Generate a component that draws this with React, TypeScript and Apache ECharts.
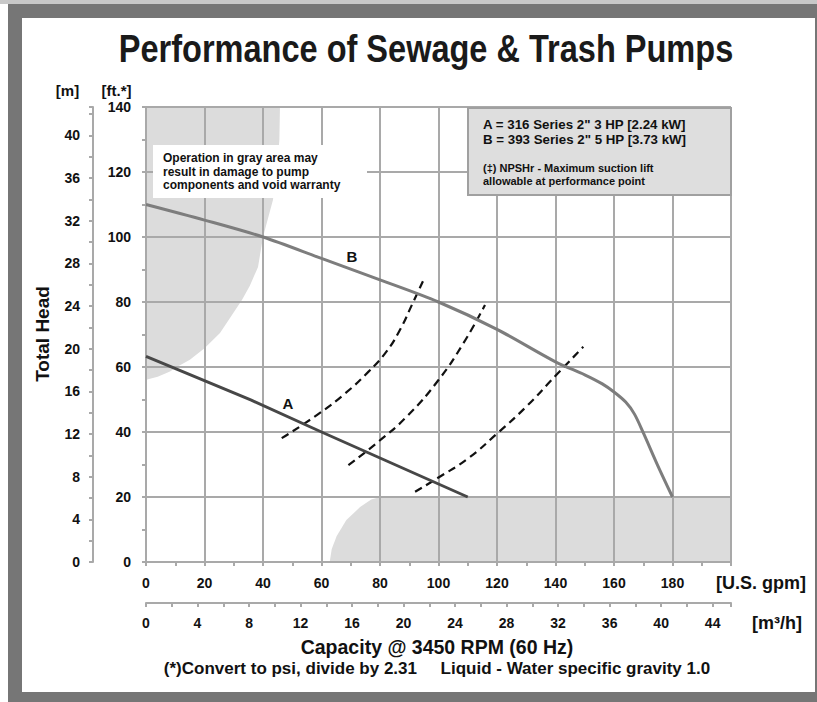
import React, { useEffect, useRef } from "react";
import * as echarts from "echarts";

// ---- Data (U.S. gpm, ft) ----
const GPM_MAX = 200;
const FT_MAX = 140;
const GPM_PER_M3H = 4.4029;
const FT_PER_M = 3.2808;

const curveA: number[][] = [
  [0, 63.3], [36, 49.8], [60, 40], [80, 32], [110, 20],
];
const curveB: number[][] = [
  [0, 110], [20, 105.2], [40, 100], [60, 93.4], [80, 86.8], [100, 80],
  [120, 71.6], [140, 61.6], [150, 57.6], [156, 54.8], [160, 52.3], [164, 49.2],
  [167, 45.5], [170, 39.8], [175, 29.6], [180, 20],
];
const lift15: number[][] = [
  [46.4, 38.1], [58.4, 45.2], [68, 51.8], [76, 58.5], [82, 64.5], [86.8, 71.4],
  [91, 79.3], [95.4, 87.8],
];
const lift10: number[][] = [
  [69.2, 29.8], [79.4, 37], [89.1, 44.7], [100, 56], [108.5, 67.3], [115.9, 79.1],
];
const lift5: number[][] = [
  [92, 21.6], [100, 26], [110, 31.8], [120, 39.5], [130, 47.8], [140, 57.3], [149.5, 66.2],
];
// gray "do not operate" regions
const grayTopLeft: number[][] = [
  [0, 140], [45.8, 140], [45.6, 130], [44.8, 120.6], [43.4, 111.4], [40, 100],
  [38.3, 90.8], [35.5, 85], [32.8, 80.6], [29, 75.5], [25.3, 70.5], [20, 65.8],
  [15, 62.2], [11, 60.2], [8.2, 58.6], [4, 57], [0.7, 56.2], [0, 56],
];
const grayBottomRight: number[][] = [
  [62.8, 0], [63.5, 4], [65.2, 8], [68.5, 12.9], [73.2, 16.9], [77, 19.2],
  [80, 20], [200, 20], [200, 0],
];

const liftLabels = ["15' Max. lift ‡", "10' Max. lift ‡", "5' Max. lift ‡"];
const legendLines = ['A = 316 Series 2" 3 HP [2.24 kW]', 'B = 393 Series 2" 5 HP [3.73 kW]'];
const noteLines = ["(‡) NPSHr - Maximum suction lift", "allowable at performance point"];
const warnLines = ["Operation in gray area may", "result in damage to pump", "components and void warranty"];

const SANS = '"Liberation Sans", Arial, Helvetica, sans-serif';
const GRID_C = "#a9a9a9";
const INK = "#111111";

function regionSeries(points: number[][]) {
  return {
    type: "custom",
    z: -1,
    silent: true,
    data: points,
    renderItem: (params: any, api: any) => {
      if (params.dataIndex !== 0) return null;
      const pts = points.map((p) => api.coord(p));
      return { type: "polygon", shape: { points: pts }, style: { fill: "#dcdcdc" } };
    },
  };
}

function liftSeries(data: number[][], label: string, offset: number[]) {
  const d: any[] = data.map((p) => p);
  d[d.length - 1] = {
    value: data[data.length - 1],
    label: {
      show: true,
      formatter: label,
      position: "top",
      offset,
      fontFamily: SANS,
      fontWeight: "bold",
      fontSize: 12,
      color: INK,
    },
  };
  return {
    type: "line",
    data: d,
    smooth: 0.5,
    symbol: "none",
    showSymbol: false,
    lineStyle: { color: INK, width: 2.2, type: [8, 5] },
    z: 3,
  };
}

function txt(x: number, y: number, text: string, size: number, extra: any = {}, styleExtra: any = {}) {
  return {
    type: "text", x, y, z: 21, silent: true, ...extra,
    style: { text, fontFamily: SANS, fontWeight: "bold", fontSize: size, fill: INK, align: "center", verticalAlign: "middle", ...styleExtra },
  };
}

export default function App() {
  const ref = useRef<HTMLDivElement>(null);
  useEffect(() => {
    if (!ref.current) return;
    const chart = echarts.init(ref.current, undefined, { renderer: "svg" });
    const tickLabel = { fontFamily: SANS, fontWeight: "bold", fontSize: 14, color: INK };
    const axLine = { show: true, onZero: false, lineStyle: { color: GRID_C, width: 2 } };
    const tick = { show: true, length: 4, lineStyle: { color: GRID_C, width: 2 } };
    const minor = { show: true, splitNumber: 2, length: 4, lineStyle: { color: GRID_C, width: 2 } };
    chart.setOption({
      animation: false,
      backgroundColor: "#ffffff",
      grid: { left: 146, top: 107, width: 585, height: 455, containLabel: false },
      xAxis: [
        {
          type: "value", min: 0, max: GPM_MAX, interval: 20, position: "bottom",
          axisLine: axLine, axisTick: tick, minorTick: minor,
          splitLine: { show: true, lineStyle: { color: GRID_C, width: 2 } },
          axisLabel: { ...tickLabel, margin: 14, formatter: (v: number) => (v >= 199 ? "" : String(v)) },
        },
        {
          type: "value", min: 0, max: GPM_MAX / GPM_PER_M3H, interval: 4, position: "bottom", offset: 41,
          axisLine: axLine, axisTick: tick, minorTick: minor, splitLine: { show: false },
          axisLabel: { ...tickLabel, margin: 13, formatter: (v: number) => (v > 44.5 ? "" : String(v)) },
        },
      ],
      yAxis: [
        {
          type: "value", min: 0, max: FT_MAX, interval: 20, position: "left",
          axisLine: axLine, axisTick: tick, minorTick: minor,
          splitLine: { show: true, lineStyle: { color: GRID_C, width: 2 } },
          axisLabel: { ...tickLabel, margin: 15 },
        },
        {
          type: "value", min: 0, max: FT_MAX / FT_PER_M, interval: 4, position: "left", offset: 53,
          axisLine: axLine, axisTick: tick, minorTick: minor, splitLine: { show: false },
          axisLabel: { ...tickLabel, margin: 13, formatter: (v: number) => (v > 40.5 ? "" : String(v)) },
        },
      ],
      series: [
        regionSeries(grayTopLeft),
        regionSeries(grayBottomRight),
        {
          type: "line", data: curveB, smooth: 0.3, symbol: "none",
          lineStyle: { color: "#7d7d7d", width: 3 }, z: 4,
        },
        {
          type: "line", data: curveA, smooth: false, symbol: "none",
          lineStyle: { color: "#474747", width: 3 }, z: 4,
        },
        liftSeries(lift15, liftLabels[0], [4, 0]),
        liftSeries(lift10, liftLabels[1], [34, 0]),
        liftSeries(lift5, liftLabels[2], [21, 3]),
      ],
      graphic: [
        { type: "rect", z: -100, silent: true, shape: { x: 8, y: 4, width: 809, height: 698 }, style: { fill: "#767676" } },
        { type: "rect", z: -100, silent: true, shape: { x: 0, y: 0, width: 817, height: 4 }, style: { fill: "#c8c8c8" } },
        { type: "rect", z: -99, silent: true, shape: { x: 22, y: 18, width: 793, height: 674 }, style: { fill: "#ffffff" } },
        txt(426, 49, "Performance of Sewage & Trash Pumps", 38.5, { scaleX: 0.845 }, { fill: "#1a1a1a" }),
        txt(67.5, 90, "[m]", 15),
        txt(116.5, 90, "[ft.*]", 15),
        txt(42, 334, "Total Head", 19, { rotation: Math.PI / 2 }),
        txt(716, 583, "[U.S. gpm]", 18, {}, { align: "left" }),
        txt(752, 623, "[m³/h]", 18, {}, { align: "left" }),
        txt(437, 647, "Capacity @ 3450 RPM (60 Hz)", 19.5),
        txt(437, 668, "(*)Convert to psi, divide by 2.31     Liquid - Water specific gravity 1.0", 17),
        // warning box
        { type: "rect", z: 20, silent: true, shape: { x: 153, y: 145, width: 214, height: 53 }, style: { fill: "#ffffff" } },
        txt(163, 171.5, warnLines.join("\n"), 12, {}, { align: "left", lineHeight: 13.5 }),
        // legend box
        { type: "rect", z: 20, silent: true, shape: { x: 468, y: 108, width: 263, height: 87 }, style: { fill: "#dedede", stroke: "#a0a0a0", lineWidth: 2 } },
        txt(483, 131.5, legendLines.join("\n"), 13.3, {}, { align: "left", lineHeight: 15 }),
        txt(483, 174.5, noteLines.join("\n"), 11, {}, { align: "left", lineHeight: 13 }),
        // curve labels
        txt(352, 256, "B", 15),
        txt(288, 403, "A", 15),
      ],
    });
    return () => chart.dispose();
  }, []);
  return <div ref={ref} style={{ position: "fixed", left: 0, top: 0, width: 817, height: 702 }} />;
}
